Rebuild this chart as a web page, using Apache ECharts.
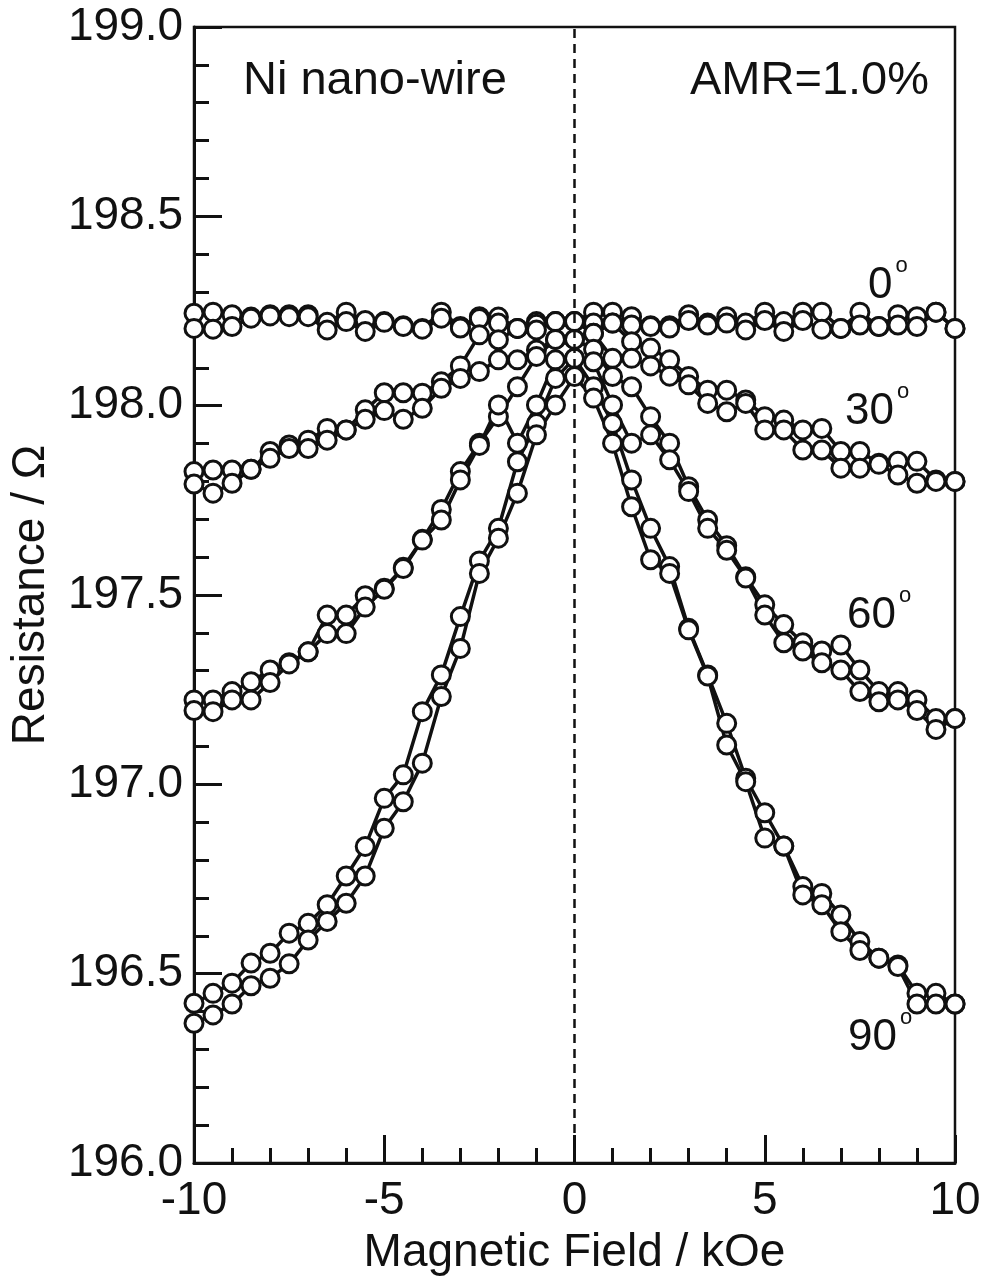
<!DOCTYPE html>
<html>
<head>
<meta charset="utf-8">
<script src="https://cdn.jsdelivr.net/npm/echarts@6/dist/echarts.min.js"></script>
<style>
  html, body { margin: 0; padding: 0; background: #fff; }
  #chart { width: 985px; height: 1283px; }
</style>
</head>
<body>
<div id="chart"></div>
<script>
// field steps, kOe
const field = [-10, -9.5, -9, -8.5, -8, -7.5, -7, -6.5, -6, -5.5, -5, -4.5, -4, -3.5, -3, -2.5, -2, -1.5, -1, -0.5, 0,
  0.5, 1, 1.5, 2, 2.5, 3, 3.5, 4, 4.5, 5, 5.5, 6, 6.5, 7, 7.5, 8, 8.5, 9, 9.5, 10];

// resistance (ohm), two sweeps per angle
const r0a = [198.244, 198.247, 198.240, 198.234, 198.240, 198.240, 198.240, 198.220, 198.247, 198.225, 198.222, 198.211, 198.204, 198.247, 198.209, 198.235, 198.234, 198.204, 198.222, 198.222, 198.222,
  198.247, 198.247, 198.235, 198.211, 198.211, 198.240, 198.218, 198.235, 198.218, 198.247, 198.222, 198.247, 198.247, 198.204, 198.247, 198.209, 198.240, 198.235, 198.247, 198.204];
const r0b = [198.204, 198.202, 198.209, 198.231, 198.237, 198.235, 198.235, 198.200, 198.222, 198.196, 198.220, 198.209, 198.202, 198.231, 198.205, 198.230, 198.218, 198.204, 198.215, 198.222, 198.222,
  198.218, 198.218, 198.213, 198.209, 198.205, 198.225, 198.213, 198.218, 198.200, 198.225, 198.196, 198.225, 198.202, 198.204, 198.213, 198.209, 198.213, 198.209, 198.247, 198.204];
const r30a = [197.826, 197.830, 197.830, 197.832, 197.879, 197.896, 197.909, 197.940, 197.936, 197.989, 198.034, 198.034, 198.033, 198.063, 198.105, 198.187, 198.174, 198.204, 198.200, 198.222, 198.222,
  198.191, 198.218, 198.169, 198.152, 198.121, 198.077, 198.041, 198.041, 198.015, 197.971, 197.962, 197.936, 197.940, 197.879, 197.879, 197.848, 197.853, 197.853, 197.804, 197.800];
const r30b = [197.793, 197.769, 197.795, 197.832, 197.861, 197.887, 197.887, 197.909, 197.936, 197.964, 197.987, 197.964, 197.993, 198.046, 198.072, 198.090, 198.121, 198.121, 198.147, 198.175, 198.175,
  198.191, 198.125, 198.125, 198.105, 198.078, 198.055, 198.006, 197.984, 198.006, 197.936, 197.936, 197.883, 197.883, 197.835, 197.835, 197.845, 197.817, 197.795, 197.800, 197.800];
const r60a = [197.223, 197.223, 197.245, 197.271, 197.302, 197.321, 197.350, 197.447, 197.447, 197.498, 197.518, 197.573, 197.647, 197.726, 197.826, 197.901, 197.971, 198.050, 198.130, 198.175, 198.175,
  198.149, 198.077, 198.050, 197.971, 197.901, 197.786, 197.698, 197.630, 197.548, 197.474, 197.422, 197.374, 197.352, 197.368, 197.302, 197.245, 197.245, 197.223, 197.174, 197.174];
const r60b = [197.195, 197.192, 197.223, 197.223, 197.269, 197.318, 197.350, 197.398, 197.398, 197.468, 197.515, 197.570, 197.645, 197.698, 197.804, 197.895, 198.002, 197.901, 198.002, 198.121, 198.125,
  198.116, 198.002, 197.901, 197.923, 197.857, 197.773, 197.676, 197.618, 197.545, 197.447, 197.374, 197.352, 197.321, 197.302, 197.245, 197.218, 197.223, 197.195, 197.145, 197.174];
const r90a = [196.422, 196.448, 196.475, 196.528, 196.554, 196.607, 196.633, 196.682, 196.758, 196.836, 196.963, 197.025, 197.192, 197.289, 197.443, 197.590, 197.676, 197.852, 197.953, 198.072, 198.125,
  198.050, 197.953, 197.804, 197.676, 197.575, 197.412, 197.289, 197.161, 197.016, 196.925, 196.837, 196.730, 196.712, 196.655, 196.585, 196.541, 196.523, 196.448, 196.448, 196.420];
const r90b = [196.369, 196.391, 196.420, 196.468, 196.488, 196.526, 196.589, 196.638, 196.686, 196.758, 196.884, 196.954, 197.056, 197.232, 197.359, 197.557, 197.650, 197.769, 197.923, 198.002, 198.077,
  198.020, 197.901, 197.733, 197.593, 197.557, 197.408, 197.286, 197.104, 197.007, 196.858, 196.837, 196.708, 196.682, 196.611, 196.561, 196.541, 196.519, 196.420, 196.420, 196.420];

const sweeps = [
  ['0a', r0a], ['0b', r0b], ['30a', r30a], ['30b', r30b],
  ['60a', r60a], ['60b', r60b], ['90a', r90a], ['90b', r90b]
];

const ink = '#111';
const font = 'Liberation Sans, Arial, sans-serif';

const chart = echarts.init(document.getElementById('chart'));

const series = sweeps.map(([name, vals]) => ({
  name: name,
  type: 'line',
  data: field.map((f, i) => [f, vals[i]]),
  symbol: 'circle',
  symbolSize: 18,
  lineStyle: { color: ink, width: 3.5 },
  itemStyle: { color: '#fff', borderColor: ink, borderWidth: 3 },
  emphasis: { disabled: true },
  animation: false
}));

// dashed zero line
series[0].markLine = {
  silent: true,
  symbol: 'none',
  label: { show: false },
  lineStyle: { color: ink, type: [9, 6], width: 2.5 },
  data: [{ xAxis: 0 }],
  animation: false
};

function degLabel(x, y, num) {
  return [
    { type: 'text', left: x, top: y, style: { text: num, font: '44px ' + font, fill: ink } },
    { type: 'text', left: x + num.length * 24.5 + 3, top: y - 9, style: { text: 'o', font: '22px ' + font, fill: ink } }
  ];
}

chart.setOption({
  backgroundColor: '#fff',
  animation: false,
  grid: {
    left: 193, top: 27, width: 762, height: 1136,
    show: true, borderColor: ink, borderWidth: 2.5
  },
  xAxis: {
    type: 'value', min: -10, max: 10, interval: 5,
    splitLine: { show: false },
    axisLine: { onZero: false, lineStyle: { color: ink, width: 3 } },
    axisTick: { inside: true, length: 28, lineStyle: { color: ink, width: 3 } },
    minorTick: { show: true, splitNumber: 5, length: 15, lineStyle: { color: ink, width: 3 } },
    axisLabel: { color: ink, fontSize: 46, fontFamily: font, margin: 15 },
    name: 'Magnetic Field / kOe',
    nameLocation: 'middle',
    nameGap: 67,
    nameTextStyle: { color: ink, fontSize: 46, fontFamily: font }
  },
  yAxis: {
    type: 'value', min: 196, max: 199, interval: 0.5,
    splitLine: { show: false },
    axisLine: { onZero: false, lineStyle: { color: ink, width: 3 } },
    axisTick: { inside: true, length: 28, lineStyle: { color: ink, width: 3 } },
    minorTick: { show: true, splitNumber: 5, length: 15, lineStyle: { color: ink, width: 3 } },
    axisLabel: { color: ink, fontSize: 46, fontFamily: font, margin: 11, formatter: v => v.toFixed(1) },
    name: 'Resistance / Ω',
    nameLocation: 'middle',
    nameGap: 140,
    nameTextStyle: { color: ink, fontSize: 46, fontFamily: font }
  },
  graphic: [
    { type: 'text', left: 243, top: 58, style: { text: 'Ni nano-wire', font: '47px ' + font, fill: ink } },
    { type: 'text', left: 690, top: 58, style: { text: 'AMR=1.0%', font: '47px ' + font, fill: ink } }
  ].concat(
    degLabel(868, 264, '0'),
    degLabel(845, 390, '30'),
    degLabel(847, 594, '60'),
    degLabel(848, 1016, '90')
  ),
  series: series
});
</script>
</body>
</html>
